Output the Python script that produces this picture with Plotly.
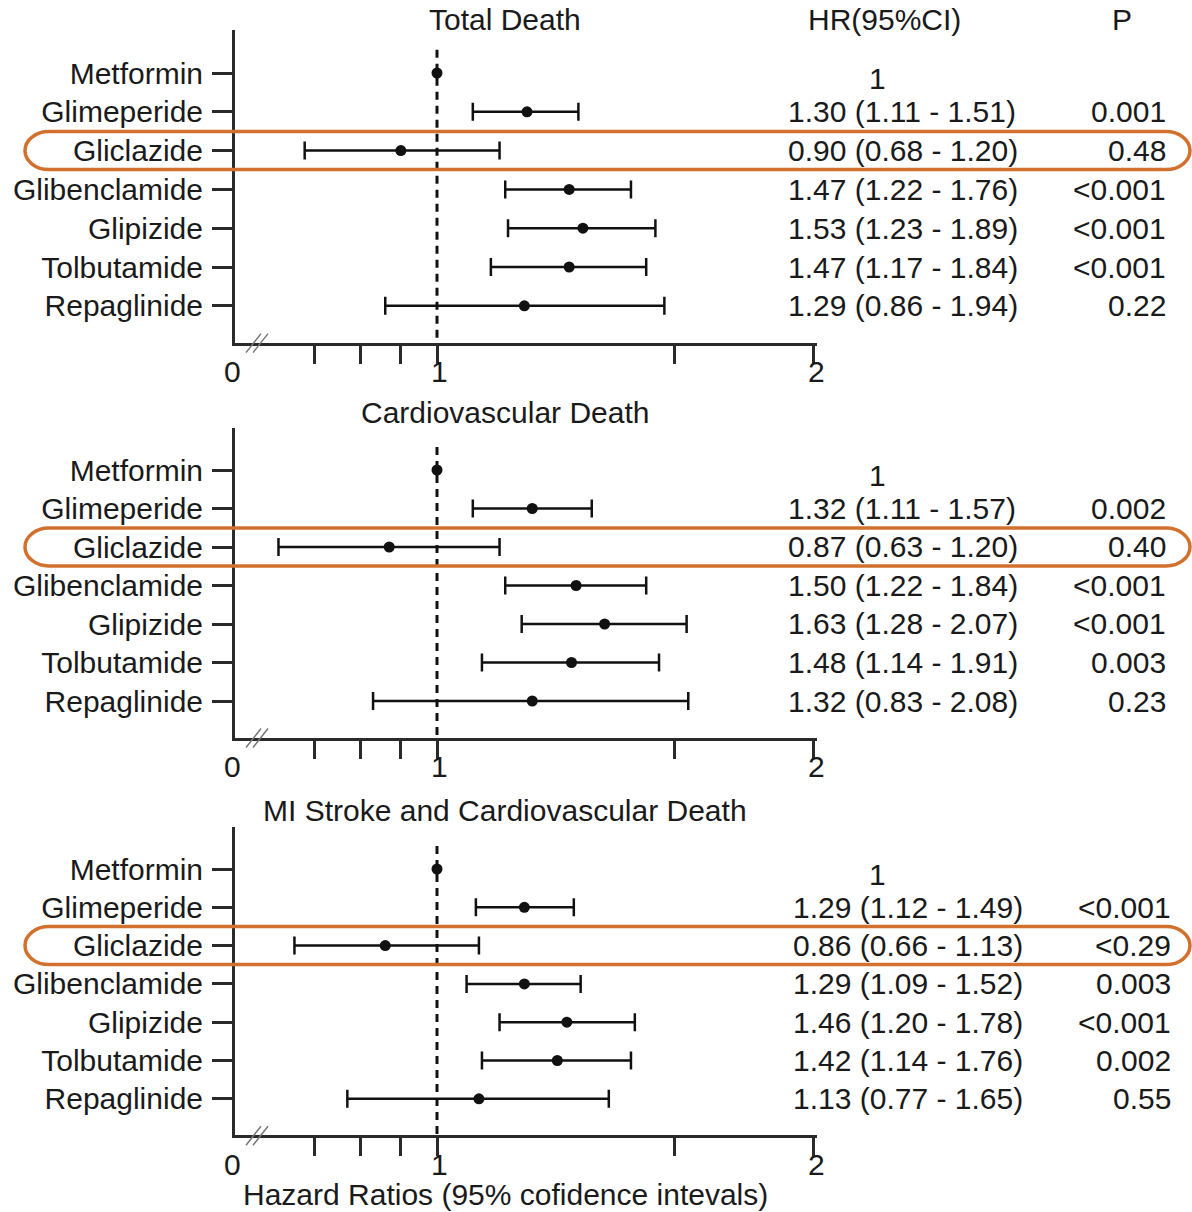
import plotly.graph_objects as go
import math

W, H = 1192, 1212

drugs = ["Metformin", "Glimeperide", "Gliclazide", "Glibenclamide", "Glipizide", "Tolbutamide", "Repaglinide"]
titles = ["Total Death", "Cardiovascular Death", "MI Stroke and Cardiovascular Death"]

hr_total = [1, 1.30, 0.90, 1.47, 1.53, 1.47, 1.29]
lo_total = [None, 1.11, 0.68, 1.22, 1.23, 1.17, 0.86]
hi_total = [None, 1.51, 1.20, 1.76, 1.89, 1.84, 1.94]
p_total = ["", "0.001", "0.48", "<0.001", "<0.001", "<0.001", "0.22"]

hr_cv = [1, 1.32, 0.87, 1.50, 1.63, 1.48, 1.32]
lo_cv = [None, 1.11, 0.63, 1.22, 1.28, 1.14, 0.83]
hi_cv = [None, 1.57, 1.20, 1.84, 2.07, 1.91, 2.08]
p_cv = ["", "0.002", "0.40", "<0.001", "<0.001", "0.003", "0.23"]

hr_mace = [1, 1.29, 0.86, 1.29, 1.46, 1.42, 1.13]
lo_mace = [None, 1.12, 0.66, 1.09, 1.20, 1.14, 0.77]
hi_mace = [None, 1.49, 1.13, 1.52, 1.78, 1.76, 1.65]
p_mace = ["", "<0.001", "<0.29", "0.003", "<0.001", "0.002", "0.55"]

x_tickvals = [0.7, 0.8, 0.9, 1, 2, 3]
x_labels = [("0", None), ("1", 1), ("2", 3)]  # label text and tick value it sits under

panels = [
    (hr_total, lo_total, hi_total, p_total),
    (hr_cv, lo_cv, hi_cv, p_cv),
    (hr_mace, lo_mace, hi_mace, p_mace),
]

FONT = "Arial, Liberation Sans, sans-serif"
FS = 30
TXT = "#1a1a1a"
AX = "#2a2a2a"

# layout geometry (pixels)
row0 = [73, 470, 869]
sp = [38.8, 38.5, 38.3]
title_y = [20, 413, 810]
hr_x = [786, 786, 791]
p_x = [1168, 1168, 1173]
ax_left, ax_right = 235, 817
ppd = 790.0  # pixels per decade
x1px = 437
xr = [(ax_left - x1px) / ppd, (ax_right - x1px) / ppd]

def px(x):
    return x / W

def py(y):
    return 1 - y / H

fig = go.Figure()
layout = dict(
    width=W, height=H, margin=dict(l=0, r=0, t=0, b=0),
    paper_bgcolor="white", plot_bgcolor="white", showlegend=False,
    font=dict(family=FONT, size=FS, color=TXT),
)
annotations = []
shapes = []

YTOP, YBOT = -1.1, 6.95

for k, (hr, lo, hi, pv) in enumerate(panels):
    sfx = "" if k == 0 else str(k + 1)
    xa, ya = "x" + sfx, "y" + sfx
    top_px = row0[k] + YTOP * sp[k]
    bot_px = row0[k] + YBOT * sp[k]
    idx = list(range(len(drugs)))

    # dotted reference line at HR = 1
    shapes.append(dict(type="line", xref=xa, yref=ya, x0=1, x1=1,
                       y0=-0.6, y1=YBOT + 0.15,
                       line=dict(color="#111", width=3, dash="8px,6px")))

    # CI bars
    ei = [i for i in idx if lo[i] is not None]
    fig.add_trace(go.Scatter(
        x=[hr[i] for i in ei], y=ei, mode="markers", xaxis=xa, yaxis=ya,
        marker=dict(size=11, color="#111"),
        error_x=dict(type="data", symmetric=False,
                     array=[hi[i] - hr[i] for i in ei],
                     arrayminus=[hr[i] - lo[i] for i in ei],
                     color="#111", thickness=2.5, width=9),
        hoverinfo="skip"))
    # reference point
    ni = [i for i in idx if lo[i] is None]
    fig.add_trace(go.Scatter(
        x=[hr[i] for i in ni], y=ni, mode="markers", xaxis=xa, yaxis=ya,
        marker=dict(size=11, color="#111"), hoverinfo="skip"))

    layout["xaxis" + sfx] = dict(
        type="log", range=xr, domain=[px(ax_left), px(ax_right)], anchor=ya,
        tickvals=x_tickvals, ticktext=[""] * len(x_tickvals), ticks="outside",
        ticklen=18, tickwidth=3, tickcolor=AX, showline=True, linewidth=3,
        linecolor=AX, showgrid=False, zeroline=False, fixedrange=True)
    layout["yaxis" + sfx] = dict(
        range=[YBOT, YTOP], domain=[py(bot_px), py(top_px)], anchor=xa,
        tickvals=idx, ticktext=drugs, ticks="outside", ticklen=20, tickwidth=2.5,
        tickcolor=AX, showline=True, linewidth=3, linecolor=AX, showgrid=False,
        zeroline=False, tickfont=dict(size=FS, color=TXT), ticklabelstandoff=3,
        fixedrange=True)

    # panel title
    annotations.append(dict(text=titles[k], xref="paper", yref="paper",
                            x=px(505), y=py(title_y[k]), showarrow=False,
                            xanchor="center", yanchor="middle",
                            font=dict(size=FS, color=TXT)))
    # HR / P text
    for i in idx:
        if lo[i] is None:
            annotations.append(dict(text="%g" % hr[i], xref="paper", yref=ya,
                                    x=px(877), y=i + 0.15, showarrow=False,
                                    xanchor="center", yanchor="middle"))
        else:
            s = "%.2f (%.2f - %.2f)" % (hr[i], lo[i], hi[i])
            annotations.append(dict(text=s, xref="paper", yref=ya,
                                    x=px(hr_x[k]), y=i, showarrow=False,
                                    xanchor="left", yanchor="middle"))
        if pv[i]:
            annotations.append(dict(text=pv[i], xref="paper", yref=ya,
                                    x=px(p_x[k]), y=i, showarrow=False,
                                    xanchor="right", yanchor="middle"))

    # x tick labels ("0" at broken origin, "1", "2")
    axis_px = bot_px
    for lab, v in x_labels:
        if v is None:
            annotations.append(dict(text=lab, xref="paper", yref="paper",
                                    x=px(232), y=py(axis_px + 29), showarrow=False,
                                    xanchor="center", yanchor="middle"))
        else:
            annotations.append(dict(text=lab, xref=xa, yref="paper",
                                    x=math.log10(v) + 0.003,
                                    y=py(axis_px + 29), showarrow=False,
                                    xanchor="center", yanchor="middle"))
    # axis break marks
    for dx in (0, 7):
        shapes.append(dict(type="line", xref="paper", yref="paper",
                           x0=px(246 + dx), y0=py(axis_px + 10),
                           x1=px(261 + dx), y1=py(axis_px - 9),
                           line=dict(color="#777", width=1.5)))

    # orange rounded highlight around Gliclazide row
    cy = row0[k] + 2 * sp[k]
    y0p, y1p = cy - 19, cy + 19
    x0p, x1p = 25, 1190
    rx, ry = 24, 19
    c = 0.5523
    pts = [
        ("M", [(x0p + rx, y0p)]),
        ("L", [(x1p - rx, y0p)]),
        ("C", [(x1p - rx + c * rx, y0p), (x1p, cy - c * ry), (x1p, cy)]),
        ("C", [(x1p, cy + c * ry), (x1p - rx + c * rx, y1p), (x1p - rx, y1p)]),
        ("L", [(x0p + rx, y1p)]),
        ("C", [(x0p + rx - c * rx, y1p), (x0p, cy + c * ry), (x0p, cy)]),
        ("C", [(x0p, cy - c * ry), (x0p + rx - c * rx, y0p), (x0p + rx, y0p)]),
    ]
    path = ""
    for cmd, pp in pts:
        path += cmd + " " + " ".join("%.5f,%.5f" % (px(a), py(b)) for a, b in pp) + " "
    path += "Z"
    shapes.append(dict(type="path", xref="paper", yref="paper", path=path,
                       line=dict(color="#D2712E", width=3.5)))

# column headers
annotations.append(dict(text="HR(95%CI)", xref="paper", yref="paper",
                        x=px(884), y=py(20), showarrow=False,
                        xanchor="center", yanchor="middle"))
annotations.append(dict(text="P", xref="paper", yref="paper",
                        x=px(1122), y=py(20), showarrow=False,
                        xanchor="center", yanchor="middle"))
# x-axis title
annotations.append(dict(text="Hazard Ratios (95% cofidence intevals)", xref="paper",
                        yref="paper", x=px(505), y=py(1194), showarrow=False,
                        xanchor="center", yanchor="middle"))

layout["annotations"] = annotations
layout["shapes"] = shapes
fig.update_layout(**layout)
fig.write_html("out.html", config={"displayModeBar": False},
               post_script="document.body.style.margin='0px';document.body.style.padding='0px';")
